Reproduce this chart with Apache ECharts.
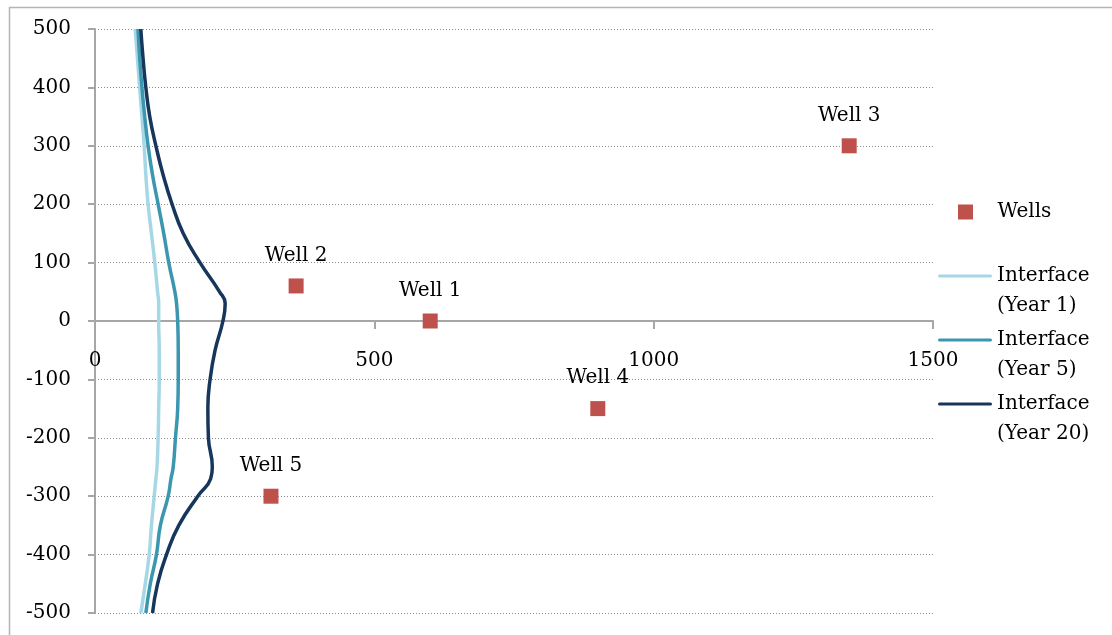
<!DOCTYPE html>
<html>
<head>
<meta charset="utf-8">
<script src="https://cdn.jsdelivr.net/npm/echarts@6/dist/echarts.min.js"></script>
<style>
  html, body { margin: 0; padding: 0; background: #fff; }
  #chart { width: 1112px; height: 635px; }
</style>
</head>
<body>
<div id="chart"></div>
<script>
// Well locations (plan view, metres)
const wellNames = ['Well 1', 'Well 2', 'Well 3', 'Well 4', 'Well 5'];
const wellX = [600, 360, 1350, 900, 315];
const wellY = [0, 60, 300, -150, -300];

// Interface position along the coast: y (alongshore) vs x (inland distance)
const interfaceY = [500, 450, 400, 350, 300, 250, 200, 150, 100, 50, 30, 0, -50, -100, -150, -200, -250, -270, -300, -350, -400, -450, -500];
const year1X  = [72, 76, 80, 84, 88, 91, 95, 101, 107, 112, 114, 114, 115, 115, 114, 113, 111, 109, 106, 101, 97, 90, 82];
const year5X  = [77, 80, 84, 89, 95, 103, 113, 123, 132, 143, 146, 148, 149, 149, 148, 144, 140, 136, 131, 117, 110, 99, 91];
const year20X = [82, 86, 91, 98, 109, 122, 138, 158, 188, 223, 233, 229, 215, 206, 202, 203, 210, 207, 184, 150, 128, 112, 103];

const seriesNames = ['Wells', 'Interface (Year 1)', 'Interface (Year 5)', 'Interface (Year 20)'];
const xTicks = { min: 0, max: 1500, step: 500 };
const yTicks = { min: -500, max: 500, step: 100 };

const FONT = 'DejaVu Serif';
const FONT_SIZE = 20;
const AXIS_GREY = '#A6A6A6';

// plot box in pixels
const GRID = { left: 95, right: 179, top: 29, bottom: 22 };
const PLOT_H = 635 - GRID.top - GRID.bottom;

function pairs(xs, ys) {
  return xs.map((x, i) => [x, ys[i]]);
}

const wellData = wellNames.map((n, i) => ({ name: n, value: [wellX[i], wellY[i]] }));

function interfaceSeries(name, xs, color) {
  return {
    name: name,
    type: 'line',
    data: pairs(xs, interfaceY),
    smooth: 0.5,
    symbol: 'none',
    showSymbol: false,
    lineStyle: { color: color, width: 3.5 },
    itemStyle: { color: color },
    z: 2
  };
}

const legendBase = {
  orient: 'vertical',
  left: 938,
  padding: 0,
  itemWidth: 54,
  itemHeight: 15,
  symbolKeepAspect: true,
  selectedMode: false,
  textStyle: { fontFamily: FONT, fontSize: FONT_SIZE, color: '#000', lineHeight: 30 }
};

// line swatch, first text line level with the swatch
function interfaceLegend(name, top) {
  return Object.assign({}, legendBase, {
    top: top,
    data: [{ name: name, icon: 'path://M1.5,0H52.5A1.5,1.5,0,0,1,52.5,3H1.5A1.5,1.5,0,0,1,1.5,0Z' }],
    formatter: n => '\n' + n.replace(' (', '\n(')
  });
}

const chart = echarts.init(document.getElementById('chart'), null, { renderer: 'canvas' });

chart.setOption({
  animation: false,
  backgroundColor: '#fff',
  textStyle: { fontFamily: FONT },
  graphic: [{
    type: 'rect',
    left: 7, top: 5,
    shape: { width: 1200, height: 700 },
    style: { fill: 'none', stroke: '#B5B5B5', lineWidth: 1.5 },
    silent: true,
    z: -10
  }],
  grid: {
    left: GRID.left, right: GRID.right, top: GRID.top, bottom: GRID.bottom,
    containLabel: false,
    outerBoundsMode: 'none'
  },
  legend: [
    // square swatch is centred in the 54px slot, the box starts at its left edge
    Object.assign({}, legendBase, {
      left: 958,
      top: 197,
      data: [{ name: seriesNames[0], icon: 'path://M0,0H10V10H0Z' }]
    }),
    interfaceLegend(seriesNames[1], 231),
    interfaceLegend(seriesNames[2], 295),
    interfaceLegend(seriesNames[3], 359)
  ],
  xAxis: {
    type: 'value',
    min: xTicks.min, max: xTicks.max, interval: xTicks.step,
    position: 'bottom',
    // axis crosses the vertical axis at y = 0 (middle of the plot)
    offset: -PLOT_H / 2,
    axisLine: { show: true, onZero: false, lineStyle: { color: AXIS_GREY, width: 2 } },
    axisTick: { show: true, length: 8, lineStyle: { color: AXIS_GREY, width: 2 } },
    splitLine: { show: false },
    axisLabel: { margin: 30, fontFamily: FONT, fontSize: FONT_SIZE, color: '#000', formatter: v => String(v) }
  },
  yAxis: {
    type: 'value',
    min: yTicks.min, max: yTicks.max, interval: yTicks.step,
    axisLine: { show: true, onZero: false, lineStyle: { color: AXIS_GREY, width: 2 } },
    axisTick: { show: true, length: 7, lineStyle: { color: AXIS_GREY, width: 2 } },
    splitLine: { show: true, lineStyle: { color: '#8C8C8C', width: 1, type: [1, 2] } },
    axisLabel: { margin: 24, fontFamily: FONT, fontSize: FONT_SIZE, color: '#000', formatter: v => String(v) }
  },
  series: [
    {
      name: seriesNames[0],
      type: 'scatter',
      data: wellData,
      symbol: 'rect',
      symbolSize: 15,
      itemStyle: { color: '#BF514D', opacity: 1 },
      label: {
        show: true,
        position: 'top',
        distance: 13,
        formatter: '{b}',
        fontFamily: FONT,
        fontSize: FONT_SIZE,
        color: '#000'
      },
      z: 3
    },
    interfaceSeries(seriesNames[1], year1X, '#A6D7E5'),
    interfaceSeries(seriesNames[2], year5X, '#3B97AF'),
    interfaceSeries(seriesNames[3], year20X, '#17365B')
  ]
});
</script>
</body>
</html>
